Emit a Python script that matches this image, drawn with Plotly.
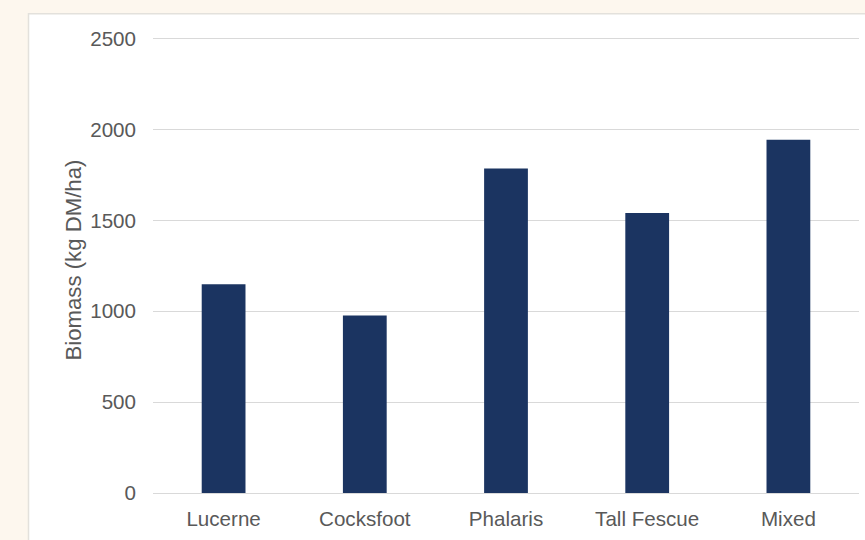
import plotly.graph_objects as go

# Biomass per pasture type
categories = ["Lucerne", "Cocksfoot", "Phalaris", "Tall Fescue", "Mixed"]
biomass = [1148, 977, 1786, 1540, 1943]
y_ticks = [0, 500, 1000, 1500, 2000, 2500]
y_max = 2520

W, H = 865, 540
L, R, B = 153, 6, 47
# top margin chosen so the 2500 gridline sits at y = 38.5 px
px_per_unit = (H - B - 38.5) / 2500
T = H - B - y_max * px_per_unit
pw, ph = W - L - R, H - T - B

def px_x(x):
    return (x - L) / pw

def px_y(y):
    return (H - B - y) / ph

font_family = "Liberation Sans, Arial, sans-serif"
text_color = "#595959"

fig = go.Figure(
    go.Bar(
        x=categories,
        y=biomass,
        marker=dict(color="#1b3461", line=dict(width=0)),
        width=0.31,
        hoverinfo="x+y",
    )
)

fig.update_layout(
    width=W,
    height=H,
    margin=dict(l=L, r=R, t=T, b=B, pad=0),
    paper_bgcolor="#fdf7ee",
    plot_bgcolor="rgba(0,0,0,0)",
    showlegend=False,
    font=dict(family=font_family, size=20.6, color=text_color),
    shapes=[
        dict(
            type="rect",
            xref="paper",
            yref="paper",
            x0=px_x(28.5),
            x1=px_x(880),
            y0=px_y(560),
            y1=px_y(13.5),
            fillcolor="#ffffff",
            line=dict(color="#e3e1dc", width=1.5),
            layer="below",
        )
    ],
    annotations=[
        dict(
            text="Biomass (kg DM/ha)",
            xref="paper",
            yref="paper",
            x=px_x(74),
            y=px_y(260.5),
            textangle=-90,
            showarrow=False,
            xanchor="center",
            yanchor="middle",
            font=dict(family=font_family, size=22.2, color=text_color),
        )
    ],
)

fig.update_xaxes(
    showgrid=False,
    showline=False,
    ticks="",
    ticklabelstandoff=11,
    tickfont=dict(size=20.6, color=text_color),
    fixedrange=True,
)

fig.update_yaxes(
    range=[0, y_max],
    tickvals=y_ticks,
    ticktext=[str(v) for v in y_ticks],
    showgrid=True,
    gridcolor="#d9d9d9",
    gridwidth=1,
    zeroline=True,
    zerolinecolor="#d9d9d9",
    zerolinewidth=1,
    showline=False,
    ticks="",
    ticklabelstandoff=16,
    tickfont=dict(size=20.6, color=text_color),
    fixedrange=True,
)

fig.write_html("out.html")
